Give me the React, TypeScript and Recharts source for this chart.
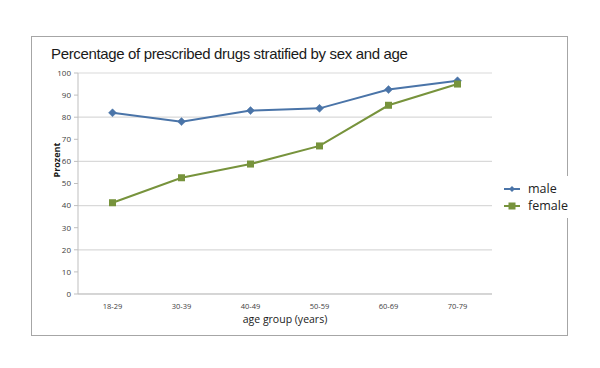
import React from 'react';
import { LineChart, Line, XAxis, YAxis, CartesianGrid, Legend } from 'recharts';

const categories = ['18-29', '30-39', '40-49', '50-59', '60-69', '70-79'];
const male = [82, 78, 83, 84, 92.5, 96.5];
const female = [41.3, 52.6, 58.8, 67, 85.4, 95];
const yTicks = [0, 10, 20, 30, 40, 50, 60, 70, 80, 90, 100];
const boundaryTicks = [0, 1, 2, 3, 4, 5, 6];

const data = categories.map((c, i) => ({ cat: c, male: male[i], female: female[i] }));

const MALE = '#4a74a8';
const FEMALE = '#77933c';

const Diamond = (props: any) => {
  const { cx, cy, index } = props;
  if (cx == null || cy == null) return <g key={index} />;
  const r = 4;
  return (
    <path
      key={index}
      d={`M${cx},${cy - r} L${cx + r},${cy} L${cx},${cy + r} L${cx - r},${cy} Z`}
      fill={MALE}
      stroke={MALE}
      strokeWidth={0.5}
    />
  );
};

const Square = (props: any) => {
  const { cx, cy, index } = props;
  if (cx == null || cy == null) return <g key={index} />;
  const s = 7;
  return <rect key={index} x={cx - s / 2} y={cy - s / 2} width={s} height={s} fill={FEMALE} />;
};

const LegendContent = (props: any) => {
  const items = [
    { name: 'male', color: MALE, shape: 'diamond' },
    { name: 'female', color: FEMALE, shape: 'square' },
  ];
  return (
    <div style={{ background: '#fff', padding: '4px 6px 4px 4px' }}>
      {items.map((it) => (
        <div key={it.name} style={{ display: 'flex', alignItems: 'center', height: 17 }}>
          <svg width={18} height={10} style={{ marginRight: 7 }}>
            <line x1={1} y1={5} x2={17} y2={5} stroke={it.color} strokeWidth={2} />
            {it.shape === 'diamond' ? (
              <path d="M9,2 L12,5 L9,8 L6,5 Z" fill={it.color} />
            ) : (
              <rect x={5.5} y={1.5} width={7} height={7} fill={it.color} />
            )}
          </svg>
          <span style={{ fontFamily: '"Open Sans", sans-serif', fontSize: 12.5, color: '#222' }}>{it.name}</span>
        </div>
      ))}
    </div>
  );
};

export default function App() {
  return (
    <div style={{ position: 'absolute', left: 0, top: 0, width: 600, height: 368, background: '#fff' }}>
      <div
        style={{
          position: 'absolute',
          left: 31,
          top: 36,
          width: 535,
          height: 298,
          border: '1.5px solid #a6a6a6',
        }}
      />
      <div
        style={{
          position: 'absolute',
          left: 51,
          top: 45,
          fontFamily: '"Liberation Sans", Arial, sans-serif',
          fontSize: 15,
          letterSpacing: -0.35,
          color: '#1a1a1a',
          whiteSpace: 'nowrap',
        }}
      >
        Percentage of prescribed drugs stratified by sex and age
      </div>
      <div style={{ position: 'absolute', left: 0, top: 0 }}>
        <LineChart
          width={600}
          height={368}
          data={data}
          margin={{ top: 73, right: 108, bottom: 0, left: 0 }}
        >
          <CartesianGrid vertical={false} stroke="#d9d9d9" strokeWidth={1.2} />
          <XAxis
            xAxisId="b"
            type="number"
            dataKey={() => 0}
            domain={[0, 6]}
            ticks={boundaryTicks}
            tick={false}
            height={0}
            tickSize={3}
            stroke="#bfbfbf"
            axisLine={false}
          />
          <XAxis
            xAxisId="cat"
            dataKey="cat"
            scale="band"
            height={32}
            tickLine={false}
            axisLine={{ stroke: '#bfbfbf' }}
            tick={{ fontSize: 7.5, fill: '#404040', fontFamily: '"Open Sans", sans-serif' }}
            tickMargin={4}
            interval={0}
            label={{
              value: 'age group (years)',
              position: 'insideTop',
              offset: 22,
              fontSize: 10.5,
              fill: '#1a1a1a',
              fontFamily: '"Open Sans", sans-serif',
            }}
          />
          <YAxis
            type="number"
            domain={[0, 100]}
            ticks={yTicks}
            width={78}
            tickSize={4}
            tickMargin={3}
            stroke="#bfbfbf"
            tick={{ fontSize: 8, fill: '#404040', fontFamily: '"Open Sans", sans-serif' }}
            label={{
              value: 'Prozent',
              angle: -90,
              position: 'insideLeft',
              offset: 56,
              dy: -6,
              dx: 1,
              fontSize: 9,
              fontWeight: 'bold',
              fill: '#1a1a1a',
              fontFamily: '"Open Sans", sans-serif',
            }}
          />
          <Line
            xAxisId="cat"
            dataKey="male"
            name="male"
            stroke={MALE}
            strokeWidth={2}
            dot={<Diamond />}
            activeDot={false}
            isAnimationActive={false}
          />
          <Line
            xAxisId="cat"
            dataKey="female"
            name="female"
            stroke={FEMALE}
            strokeWidth={2}
            dot={<Square />}
            activeDot={false}
            isAnimationActive={false}
          />
          <Legend
            content={<LegendContent />}
            layout="vertical"
            wrapperStyle={{ position: 'absolute', left: 499, top: 176, width: 'auto' }}
          />
        </LineChart>
      </div>
    </div>
  );
}
